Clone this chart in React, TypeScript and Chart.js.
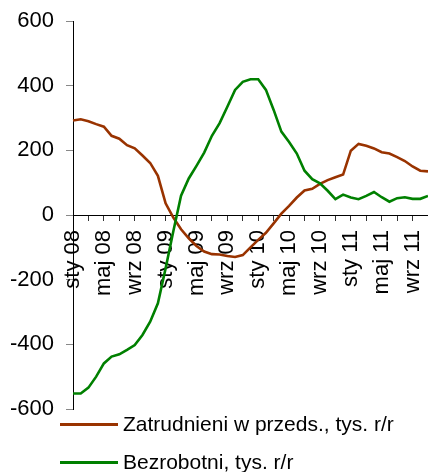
import React, { useEffect, useRef } from 'react';
import { Chart, registerables } from 'chart.js';

Chart.register(...registerables);

const monthNames = ['sty', 'lut', 'mar', 'kwi', 'maj', 'cze', 'lip', 'sie', 'wrz', 'paź', 'lis', 'gru'];
const years = ['08', '09', '10', '11'];
const categories: string[] = years.flatMap((y) => monthNames.map((m) => `${m} ${y}`)).slice(0, 47);

const zatrudnieni = [
  292, 296, 290, 281, 273, 245, 236, 216, 206, 184, 161, 121,
  36, -8, -44, -72, -96, -113, -121, -122, -127, -130, -124, -100,
  -77, -55, -26, 4, 28, 54, 76, 81, 96, 108, 117, 125,
  199, 220, 214, 206, 194, 190, 179, 167, 150, 137, 135,
];

const bezrobotni = [
  -552, -552, -534, -500, -459, -438, -431, -417, -402, -371, -330, -273,
  -165, -50, 60, 113, 152, 193, 245, 284, 335, 387, 412, 420,
  420, 387, 325, 258, 226, 190, 137, 111, 98, 75, 49, 63,
  54, 49, 59, 71, 55, 41, 52, 55, 50, 50, 59,
];

const seriesNames = ['Zatrudnieni w przeds., tys. r/r', 'Bezrobotni, tys. r/r'];
const seriesColors = ['#993300', '#008000'];
const yMin = -600;
const yMax = 600;
const yStep = 200;
const labelEvery = 4;
const tickEvery = 2;

const FONT = '"Liberation Sans", Arial, sans-serif';

const zeroPad = (s: any) => {
  s.paddingLeft = 0;
  s.paddingRight = 0;
  s.paddingTop = 0;
  s.paddingBottom = 0;
};

export default function App() {
  const ref = useRef<HTMLCanvasElement | null>(null);

  useEffect(() => {
    if (!ref.current) return;
    const chart = new Chart(ref.current, {
      type: 'line',
      data: {
        labels: categories,
        datasets: [
          {
            label: seriesNames[0],
            data: zatrudnieni,
            borderColor: seriesColors[0],
            backgroundColor: seriesColors[0],
            borderWidth: 2.6,
            pointRadius: 0,
            tension: 0,
            order: 1,
          },
          {
            label: seriesNames[1],
            data: bezrobotni,
            borderColor: seriesColors[1],
            backgroundColor: seriesColors[1],
            borderWidth: 2.6,
            pointRadius: 0,
            tension: 0,
            order: 0,
          },
        ],
      },
      options: {
        responsive: false,
        animation: false,
        events: [],
        layout: { padding: { left: 0, top: 21, right: 0, bottom: 63 } },
        plugins: { legend: { display: false }, tooltip: { enabled: false } },
        scales: {
          x: {
            type: 'category',
            position: { y: 0 } as any,
            offset: false,
            grid: {
              drawOnChartArea: false,
              drawTicks: true,
              tickLength: 5,
              tickColor: (c: any) => (c.index % tickEvery === 0 ? '#333' : 'rgba(0,0,0,0)'),
            },
            border: { display: true, color: '#000', width: 1 },
            ticks: {
              autoSkip: false,
              maxRotation: 90,
              minRotation: 90,
              padding: 10,
              color: '#000',
              font: { family: FONT, size: 22 },
              callback: function (this: any, val: any, idx: number) {
                return idx % labelEvery === 0 ? this.getLabelForValue(val) : '';
              },
            },
            afterFit: zeroPad,
          },
          y: {
            min: yMin,
            max: yMax,
            ticks: {
              stepSize: yStep,
              padding: 12,
              color: '#000',
              font: { family: FONT, size: 22 },
            },
            grid: { drawOnChartArea: false, tickLength: 7, tickColor: '#888' },
            border: { color: '#000', width: 1 },
            afterFit: (s: any) => {
              zeroPad(s);
              s.width = 73;
            },
          },
        },
      },
    });
    return () => chart.destroy();
  }, []);

  const rowStyle = (top: number): React.CSSProperties => ({
    position: 'absolute',
    left: 60,
    top,
    height: 24,
    display: 'flex',
    alignItems: 'center',
    fontFamily: FONT,
    fontSize: 21,
    lineHeight: '24px',
    color: '#000',
    whiteSpace: 'nowrap',
  });

  return (
    <div style={{ position: 'absolute', left: 0, top: 0, width: 428, height: 472, background: '#fff' }}>
      <canvas ref={ref} width={428} height={472} style={{ display: 'block' }} />
      {seriesNames.map((name, i) => (
        <div key={name} style={rowStyle(412 + i * 38)}>
          <span style={{ display: 'inline-block', width: 58, height: 3, background: seriesColors[i], marginRight: 5 }} />
          <span>{name}</span>
        </div>
      ))}
    </div>
  );
}
